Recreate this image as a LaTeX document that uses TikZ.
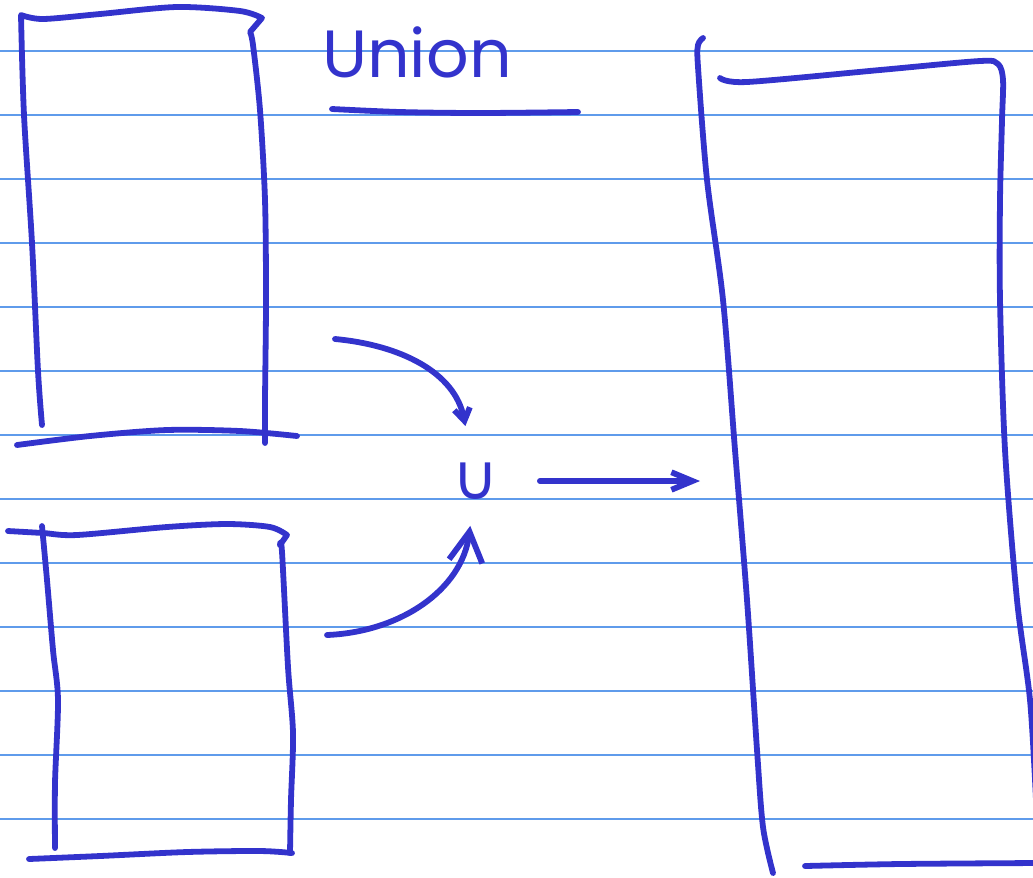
\documentclass[tikz,border=0pt]{standalone}
\usepackage{fontspec}
\newfontfamily\handfont{Poppins}
\newfontfamily\cupfont{DejaVu Sans}
\usetikzlibrary{
  arrows.meta
}
\definecolor{ink}{RGB}{51,51,204}
\definecolor{ruling}{RGB}{95,155,235}

\begin{document}
\begin{tikzpicture}[x=0.02cm,y=-0.02cm,
  pen/.style={draw=ink,line width=3.3pt,line cap=round,line join=round},
  ruling line/.style={draw=ruling,line width=0.8pt},
  tiny barb/.style={-{Straight Barb[length=7pt,width=9pt]}},
  big barb/.style={-{Straight Barb[length=17pt,width=19pt]}},
  flat barb/.style={-{Straight Barb[length=12pt,width=10pt]}},
  title text/.style={text=ink,font=\handfont\fontsize{38}{38}\selectfont,anchor=base},
  union sign/.style={text=ink,inner sep=2pt,font=\cupfont\fontsize{36}{36}\selectfont},
]
\useasboundingbox (0,0) rectangle (1033,877);
\foreach \y in {51,115,...,819}
  \draw[ruling line] (0,\y) -- (1033,\y);

% top left box
\draw[pen] plot[smooth] coordinates {(42,425) (38,371) (32,243) (24,115) (21,15)}
  -- plot[smooth] coordinates {(21,15) (43,19) (100,14) (177,7) (240,11) (262,18)}
  -- (250,32)
  -- plot[smooth] coordinates {(250,32) (253,45) (260,110) (265,200) (266,300) (265,400) (265,443)};
\draw[pen] plot[smooth] coordinates {(17,445) (90,436) (167,430) (240,431) (297,436)};

% bottom left box
\draw[pen] plot[smooth] coordinates {(8,531) (43,533) (77,535) (167,527) (227,524) (270,527) (287,535)}
  -- (280,545)
  -- plot[smooth] coordinates {(280,545) (282,552) (288,667) (293,733) (291,800) (290,853)};
\draw[pen] plot[smooth] coordinates {(42,526) (47,580) (53,650) (58,700) (55,783) (55,848)};
\draw[pen] plot[smooth] coordinates {(29,859) (100,856) (187,852) (260,851) (292,853)};

% result box
\draw[pen] plot[smooth] coordinates {(703,38) (698,45) (698,67) (707,180) (723,300) (735,450) (747,600) (757,750) (763,827) (773,873)};
\draw[pen] plot[smooth] coordinates {(720,78) (747,82) (880,70) (980,61) (998,64) (1003,80) (1002,120) (1000,200) (1000,300) (1005,450) (1017,600) (1030,700) (1036,800)};
\draw[pen] plot[smooth] coordinates {(805,866) (900,864) (1036,863)};

\node[title text] (title) at (417,77) {Union};
\draw[pen] plot[smooth] coordinates {(332,109) (400,112) (480,113) (578,112)};

\node[union sign] (cup) at (476,481) {∪};
\coordinate (top src) at (335,339);
\coordinate (bottom src) at (327,635);
\coordinate (result in) at (700,481);

\draw[pen,tiny barb,shorten >=19pt] (top src) .. controls (400,345) and (455,372) .. (cup);
\draw[pen,big barb,shorten >=13pt] (bottom src) .. controls (400,632) and (462,590) .. (cup);
\draw[pen,flat barb,shorten <=21pt] (cup) -- (result in);
\end{tikzpicture}
\end{document}
